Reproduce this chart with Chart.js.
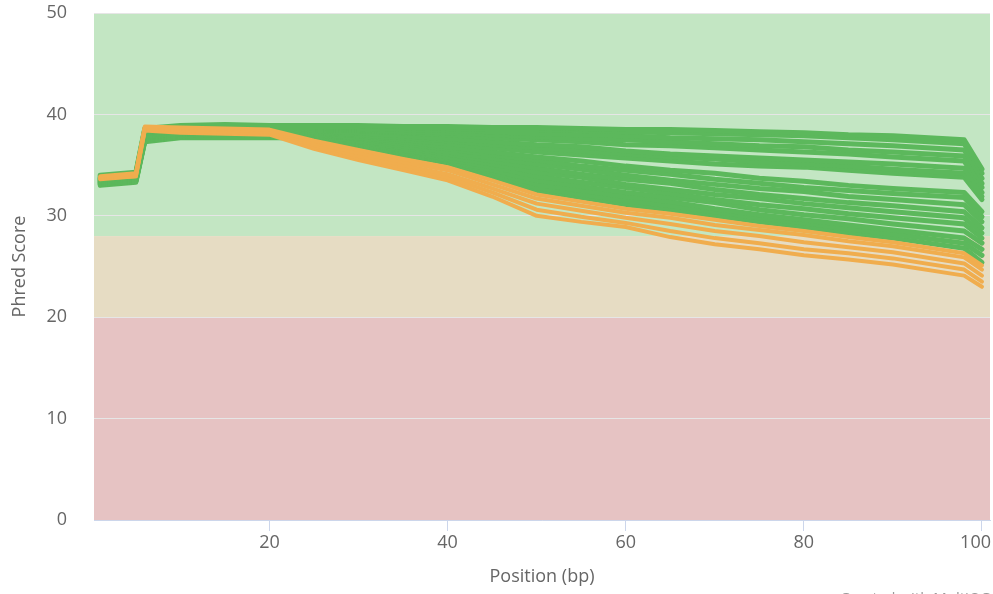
<!DOCTYPE html>
<html>
<head>
<meta charset="utf-8">
<script src="https://cdn.jsdelivr.net/npm/chart.js@4/dist/chart.umd.min.js"></script>
<style>
  html, body { margin: 0; padding: 0; background: #ffffff; }
  #wrap { position: relative; width: 993px; height: 594px; }
</style>
</head>
<body>
<div id="wrap"><canvas id="chart" width="993" height="594"></canvas></div>
<script>
// base positions (bp) shared by every sample
const positions = [1, 5, 6, 10, 15, 20, 25, 30, 35, 40, 45, 50, 55, 60, 65, 70, 75, 80, 85, 90, 98, 100];

// samples that pass (green)
const passSamples = [
    [34.0, 34.3, 38.6, 38.9, 39.0, 38.9, 38.9, 38.9, 38.8, 38.8, 38.7, 38.7, 38.6, 38.5, 38.5, 38.4, 38.3, 38.2, 38.0, 37.9, 37.5, 34.6],
    [33.9, 34.2, 38.5, 38.8, 38.9, 38.8, 38.8, 38.7, 38.7, 38.6, 38.5, 38.5, 38.4, 38.3, 38.2, 38.1, 38.0, 37.9, 37.7, 37.5, 37.1, 34.2],
    [33.8, 34.1, 38.4, 38.8, 38.8, 38.7, 38.7, 38.6, 38.5, 38.4, 38.3, 38.1, 38.0, 37.9, 37.7, 37.6, 37.5, 37.3, 37.1, 36.9, 36.5, 33.7],
    [33.7, 34.0, 38.3, 38.7, 38.8, 38.7, 38.6, 38.5, 38.3, 38.2, 38.0, 37.8, 37.6, 37.5, 37.3, 37.1, 36.9, 36.8, 36.5, 36.3, 35.9, 33.2],
    [33.7, 34.0, 38.2, 38.6, 38.7, 38.6, 38.5, 38.4, 38.2, 38.0, 37.7, 37.5, 37.3, 37.0, 36.9, 36.7, 36.5, 36.3, 36.1, 35.8, 35.4, 32.8],
    [33.6, 33.9, 38.2, 38.6, 38.6, 38.5, 38.4, 38.2, 37.9, 37.6, 37.3, 37.0, 36.8, 36.4, 36.1, 35.9, 35.7, 35.5, 35.3, 35.1, 34.7, 32.3],
    [33.6, 33.9, 38.1, 38.5, 38.5, 38.5, 38.3, 38.0, 37.7, 37.4, 37.0, 36.7, 36.4, 36.1, 35.8, 35.6, 35.3, 35.1, 34.9, 34.6, 34.2, 31.9],
    [33.5, 33.8, 38.0, 38.4, 38.5, 38.4, 38.2, 37.9, 37.5, 37.1, 36.7, 36.3, 36.0, 35.7, 35.4, 35.1, 34.9, 34.8, 34.5, 34.2, 33.8, 31.6],
    [33.5, 33.8, 37.9, 38.3, 38.4, 38.3, 38.1, 37.7, 37.3, 36.8, 36.3, 35.8, 35.4, 34.9, 34.5, 34.2, 33.7, 33.4, 33.0, 32.7, 32.3, 30.4],
    [33.4, 33.7, 37.8, 38.2, 38.3, 38.2, 38.0, 37.6, 37.1, 36.6, 36.0, 35.5, 34.9, 34.5, 34.1, 33.6, 33.2, 32.8, 32.5, 32.2, 31.8, 29.9],
    [33.4, 33.7, 37.8, 38.1, 38.2, 38.2, 37.9, 37.4, 36.9, 36.3, 35.7, 35.1, 34.6, 34.0, 33.5, 33.1, 32.7, 32.4, 31.9, 31.6, 31.1, 29.4],
    [33.3, 33.6, 37.7, 38.1, 38.1, 38.1, 37.8, 37.3, 36.7, 36.1, 35.4, 34.7, 34.1, 33.6, 33.2, 32.6, 32.1, 31.7, 31.3, 31.0, 30.4, 28.8],
    [33.3, 33.6, 37.6, 38.0, 38.0, 38.0, 37.7, 37.2, 36.5, 35.8, 35.1, 34.3, 33.8, 33.1, 32.6, 32.1, 31.7, 31.2, 30.8, 30.4, 29.8, 28.3],
    [33.2, 33.5, 37.5, 37.9, 38.0, 37.9, 37.6, 37.1, 36.4, 35.6, 34.8, 33.9, 33.3, 32.8, 32.2, 31.6, 31.1, 30.7, 30.2, 29.8, 29.2, 27.8],
    [33.2, 33.5, 37.5, 37.9, 37.9, 37.9, 37.6, 37.0, 36.3, 35.5, 34.5, 33.5, 32.9, 32.3, 31.8, 31.3, 30.6, 30.1, 29.7, 29.2, 28.5, 27.3],
    [33.1, 33.4, 37.4, 37.8, 37.8, 37.8, 37.6, 36.9, 36.2, 35.4, 34.3, 33.1, 32.5, 31.9, 31.4, 30.7, 30.1, 29.6, 29.1, 28.6, 27.8, 26.7],
    [33.1, 33.4, 37.4, 37.8, 37.8, 37.8, 37.7, 36.9, 36.1, 35.3, 34.1, 32.8, 32.1, 31.5, 31.0, 30.4, 29.8, 29.3, 28.7, 28.2, 27.3, 26.1],
    [33.0, 33.3, 37.3, 37.7, 37.7, 37.7, 37.7, 36.9, 36.0, 35.2, 33.9, 32.5, 31.8, 31.1, 30.6, 30.0, 29.4, 28.9, 28.3, 27.8, 26.8, 25.4]
];

// samples with a warning (orange)
const warnSamples = [
    [33.9, 34.2, 38.8, 38.7, 38.6, 38.5, 37.4, 36.5, 35.6, 34.8, 33.5, 32.1, 31.4, 30.7, 30.2, 29.6, 29.0, 28.5, 27.9, 27.4, 26.3, 25.1],
    [33.8, 34.1, 38.7, 38.6, 38.5, 38.3, 37.2, 36.2, 35.3, 34.5, 33.1, 31.7, 31.0, 30.3, 29.8, 29.1, 28.6, 28.1, 27.5, 27.0, 25.9, 24.7],
    [33.7, 34.0, 38.6, 38.4, 38.3, 38.2, 37.0, 35.9, 35.0, 34.1, 32.7, 31.2, 30.5, 29.8, 29.2, 28.5, 28.0, 27.4, 26.9, 26.4, 25.3, 24.1],
    [33.7, 33.9, 38.5, 38.3, 38.2, 38.1, 36.8, 35.7, 34.8, 33.8, 32.3, 30.6, 29.9, 29.3, 28.5, 27.8, 27.3, 26.7, 26.3, 25.8, 24.7, 23.5],
    [33.6, 33.9, 38.4, 38.2, 38.1, 38.0, 36.6, 35.5, 34.5, 33.5, 31.9, 30.0, 29.4, 28.9, 27.9, 27.2, 26.7, 26.1, 25.7, 25.2, 24.1, 23.0]
];

const xTickValues = [20, 40, 60, 80, 100];
const yTickValues = [0, 10, 20, 30, 40, 50];

// quality zones: [from, to, colour]
const zones = [
    [28, 50, '#c3e6c3'],
    [20, 28, '#e6dcc3'],
    [0, 20, '#e6c3c3']
];

const textColor = '#666666';
const fontFamily = '"Open Sans", "DejaVu Sans", sans-serif';

function toPoints(values) {
    return values.map((v, i) => ({x: positions[i], y: v}));
}

const datasets = [];
// orange first so it is painted over the green
warnSamples.forEach(s => {
    datasets.push({
        data: toPoints(s),
        borderColor: '#f0ad4e',
        borderWidth: 4
    });
});
passSamples.forEach(s => {
    datasets.push({
        data: toPoints(s),
        borderColor: '#5cb85c',
        borderWidth: 5
    });
});

const zonePlugin = {
    id: 'zones',
    beforeDraw(chart) {
        const {ctx, chartArea, scales} = chart;
        ctx.save();
        zones.forEach(z => {
            const top = scales.y.getPixelForValue(z[1]);
            const bottom = scales.y.getPixelForValue(z[0]);
            ctx.fillStyle = z[2];
            ctx.fillRect(chartArea.left, top, chartArea.right - chartArea.left, bottom - top);
        });
        ctx.restore();
    },
    afterDraw(chart) {
        const {ctx, scales, chartArea} = chart;
        ctx.save();
        // x labels, the last one pushed inside the canvas like highcharts does
        ctx.fillStyle = textColor;
        ctx.font = '18px ' + fontFamily;
        ctx.textBaseline = 'top';
        ctx.textAlign = 'left';
        xTickValues.forEach(v => {
            const w = ctx.measureText(String(v)).width;
            let left = scales.x.getPixelForValue(v) - w / 2;
            if (left + w > chart.width - 2) left = chart.width - 2 - w;
            ctx.fillText(String(v), left, chartArea.bottom + 14);
        });

        ctx.fillStyle = '#999999';
        ctx.font = '15px ' + fontFamily;
        ctx.textAlign = 'right';
        ctx.fillText('Created with MultiQC', 990, 591);
        ctx.restore();
    }
};

new Chart(document.getElementById('chart'), {
    type: 'line',
    data: {datasets: datasets},
    plugins: [zonePlugin],
    options: {
        responsive: false,
        animation: false,
        layout: {padding: {top: 13, right: 3, left: 0, bottom: 0}},
        elements: {
            line: {tension: 0, borderCapStyle: 'round', borderJoinStyle: 'round'},
            point: {radius: 0}
        },
        plugins: {
            legend: {display: false},
            tooltip: {enabled: false}
        },
        scales: {
            x: {
                type: 'linear',
                min: 0.3,
                max: 100.9,
                afterBuildTicks(scale) {
                    scale.ticks = xTickValues.map(v => ({value: v}));
                },
                afterFit(scale) {
                    scale.height = 74;
                    scale.paddingLeft = 0;
                    scale.paddingRight = 0;
                },
                grid: {
                    drawOnChartArea: false,
                    drawTicks: true,
                    tickLength: 11,
                    color: '#ccd6eb'
                },
                border: {display: true, color: '#ccd6eb'},
                ticks: {display: false},
                title: {
                    display: true,
                    text: 'Position (bp)',
                    color: textColor,
                    font: {family: fontFamily, size: 18},
                    padding: {top: 0, bottom: 6}
                }
            },
            y: {
                min: 0,
                max: 50,
                afterBuildTicks(scale) {
                    scale.ticks = yTickValues.map(v => ({value: v}));
                },
                afterFit(scale) {
                    scale.width = 94;
                    scale.paddingTop = 0;
                    scale.paddingBottom = 0;
                },
                grid: {
                    drawTicks: false,
                    color: '#e6e6e6',
                    lineWidth: 1
                },
                border: {display: false},
                ticks: {
                    color: textColor,
                    font: {family: fontFamily, size: 18},
                    padding: 27
                },
                title: {
                    display: true,
                    text: 'Phred Score',
                    color: textColor,
                    font: {family: fontFamily, size: 18},
                    padding: {top: 9, bottom: 0}
                }
            }
        }
    }
});
</script>
</body>
</html>
